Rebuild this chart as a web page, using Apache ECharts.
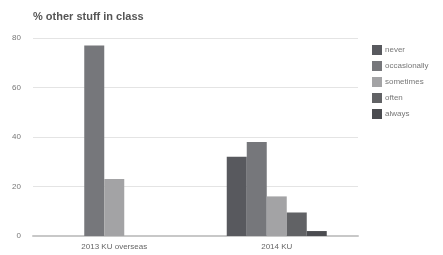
<!DOCTYPE html>
<html>
<head>
    <meta charset="utf-8">
    <script src="https://cdn.jsdelivr.net/npm/echarts@6/dist/echarts.min.js"></script>
    <style>
        html, body { margin: 0; padding: 0; background: #fff; }
    </style>
</head>
<body>
    <div id="chart" style="width: 443px;height:255px;"></div>
    <script>
        // data
        const categories = ['2013 KU overseas', '2014 KU'];
        const seriesNames = ['never', 'occasionally', 'sometimes', 'often', 'always'];
        const never = [null, 32];
        const occasionally = [77, 38];
        const sometimes = [23, 16];
        const often = [null, 9.5];
        const always = [null, 2];
        const yTicks = [0, 20, 40, 60, 80];

        const colors = ['#58595e', '#76777b', '#a3a3a5', '#616265', '#4b4c50'];
        const values = [never, occasionally, sometimes, often, always];

        const chart = echarts.init(document.getElementById('chart'));
        const series = seriesNames.map(function (name, i) {
            return {
                name: name,
                type: 'bar',
                data: values[i],
                barWidth: 20,
                barGap: '0%',
                itemStyle: { color: colors[i] }
            };
        });

        chart.setOption({
            animation: false,
            color: colors,
            title: {
                text: '% other stuff in class',
                left: 28,
                top: 6,
                textStyle: { fontFamily: 'Arial, Liberation Sans', fontSize: 11, fontWeight: 'bold', color: '#555' }
            },
            legend: {
                orient: 'vertical',
                left: 367,
                top: 40,
                itemWidth: 10,
                itemHeight: 10,
                itemGap: 6,
                icon: 'rect',
                data: seriesNames,
                textStyle: { fontFamily: 'Arial, Liberation Sans', fontSize: 8, color: '#777', padding: [0, 0, 0, -2] }
            },
            grid: {
                left: 33,
                right: 85,
                top: 38,
                bottom: 19,
                containLabel: false
            },
            xAxis: {
                type: 'category',
                data: categories,
                axisTick: { show: false },
                axisLine: { lineStyle: { color: '#c8c8c8', width: 2 } },
                axisLabel: { fontFamily: 'Arial, Liberation Sans', fontSize: 8, color: '#666', margin: 7 }
            },
            yAxis: {
                type: 'value',
                min: yTicks[0],
                max: yTicks[yTicks.length - 1],
                interval: 20,
                axisLine: { show: false },
                axisTick: { show: false },
                axisLabel: { fontFamily: 'Arial, Liberation Sans', fontSize: 8, color: '#777', margin: 12 },
                splitLine: { lineStyle: { color: '#e4e4e4' } }
            },
            series: series
        });
    </script>
</body>
</html>
